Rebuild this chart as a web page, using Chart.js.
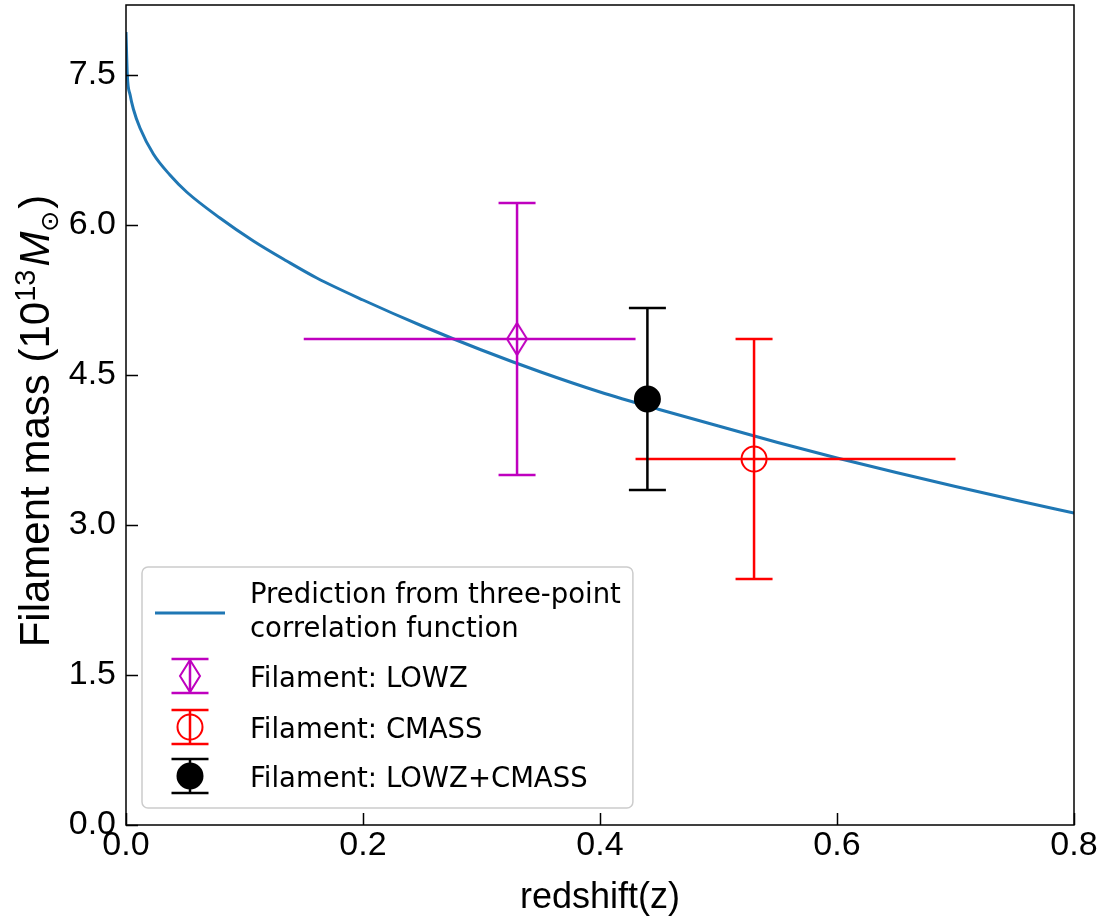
<!DOCTYPE html>
<html>
<head>
<meta charset="utf-8">
<script src="https://cdn.jsdelivr.net/npm/chart.js@4.4.0/dist/chart.umd.min.js"></script>
<style>
  html, body { margin: 0; padding: 0; background: #fff; }
  #wrap { width: 1102px; height: 924px; }
</style>
</head>
<body>
<div id="wrap"><canvas id="chart_1" width="1102" height="924"></canvas></div>
<script>
// prediction from three-point correlation function
const curveZ    = [0, 0.0011, 0.0035, 0.0062, 0.0118, 0.0231, 0.0371, 0.0512, 0.0793, 0.1075, 0.1356,
                   0.161, 0.2, 0.25, 0.3, 0.35, 0.4, 0.45, 0.5, 0.55, 0.6, 0.65, 0.7, 0.75, 0.8];
const curveMass = [7.93, 7.50, 7.30, 7.16, 6.97, 6.71, 6.50, 6.33, 6.07, 5.84, 5.64,
                   5.47, 5.25, 4.99, 4.75, 4.53, 4.33, 4.155, 3.99, 3.825, 3.67, 3.525, 3.385, 3.25, 3.12];
const curveLabel = ['Prediction from three-point', 'correlation function'];

// filament measurements
const pointLabels = ['Filament: LOWZ', 'Filament: CMASS', 'Filament: LOWZ+CMASS'];
const pointZ    = [0.33, 0.53, 0.44];
const zLow      = [0.15, 0.43, 0.44];
const zHigh     = [0.43, 0.70, 0.44];
const pointMass = [4.86, 3.66, 4.26];
const massErr   = [1.36, 1.20, 0.91];

const xTicks = [0, 0.2, 0.4, 0.6, 0.8];
const yTicks = [0, 1.5, 3.0, 4.5, 6.0, 7.5];

const xTitle = 'redshift(z)';

// styles
const curveColor = '#1f77b4';
const pointColors = ['#bf00bf', '#ff0000', '#000000'];
const tickFont = '"Liberation Sans", Arial, sans-serif';
const textFont = '"DejaVu Sans", sans-serif';

function thinDiamond(color){
    let c = document.createElement('canvas');
    c.width = 26; c.height = 38;
    let g = c.getContext('2d');
    g.strokeStyle = color;
    g.lineWidth = 2;
    g.beginPath();
    g.moveTo(13, 3); g.lineTo(23, 19); g.lineTo(13, 35); g.lineTo(3, 19);
    g.closePath();
    g.stroke();
    return c;
}

const pointStyles = [thinDiamond(pointColors[0]), 'circle', 'circle'];
const pointFill = ['rgba(0,0,0,0)', 'rgba(0,0,0,0)', pointColors[2]];

function marker(ctx, i, x, y){
    ctx.save();
    ctx.strokeStyle = pointColors[i];
    ctx.fillStyle = pointFill[i];
    ctx.lineWidth = 2;
    if (typeof pointStyles[i] !== 'string') {
        ctx.drawImage(pointStyles[i], x - pointStyles[i].width / 2, y - pointStyles[i].height / 2);
    } else {
        ctx.beginPath();
        ctx.arc(x, y, 12.5, 0, Math.PI * 2);
        ctx.fill();
        ctx.stroke();
    }
    ctx.restore();
}

function errBar(ctx, color, x, yTop, yBot, cap){
    ctx.strokeStyle = color;
    ctx.beginPath();
    ctx.moveTo(x, yTop); ctx.lineTo(x, yBot);
    ctx.moveTo(x - cap, yTop); ctx.lineTo(x + cap, yTop);
    ctx.moveTo(x - cap, yBot); ctx.lineTo(x + cap, yBot);
    ctx.stroke();
}

// error bars go between the curve and the markers
const errorBars = {
    id: 'errorBars',
    afterDatasetDraw(chart, args){
        if (args.index !== 0) return;
        const {ctx, scales: {x, y}} = chart;
        ctx.save();
        ctx.lineWidth = 2.5;
        pointZ.forEach((z, i) => {
            let px = x.getPixelForValue(z);
            let py = y.getPixelForValue(pointMass[i]);
            if (zHigh[i] > zLow[i]) {
                ctx.strokeStyle = pointColors[i];
                ctx.beginPath();
                ctx.moveTo(x.getPixelForValue(zLow[i]), py);
                ctx.lineTo(x.getPixelForValue(zHigh[i]), py);
                ctx.stroke();
            }
            errBar(ctx, pointColors[i], px,
                y.getPixelForValue(pointMass[i] + massErr[i]),
                y.getPixelForValue(pointMass[i] - massErr[i]), 18.5);
        });
        ctx.restore();
    }
};

// frame, inward ticks, axis titles and the legend box
const decorations = {
    id: 'decorations',
    afterDraw(chart){
        const {ctx, chartArea: a, scales: {x, y}} = chart;
        ctx.save();
        ctx.strokeStyle = '#000';
        ctx.lineWidth = 1.5;
        ctx.strokeRect(a.left, a.top, a.right - a.left, a.bottom - a.top);
        ctx.beginPath();
        x.ticks.forEach(t => {
            let px = Math.round(x.getPixelForValue(t.value)) + 0.5;
            ctx.moveTo(px, a.bottom); ctx.lineTo(px, a.bottom - 12);
        });
        y.ticks.forEach(t => {
            let py = Math.round(y.getPixelForValue(t.value)) + 0.5;
            ctx.moveTo(a.left, py); ctx.lineTo(a.left + 12, py);
        });
        ctx.stroke();

        // x title
        ctx.fillStyle = '#000';
        ctx.font = '36px ' + tickFont;
        ctx.textAlign = 'center';
        ctx.textBaseline = 'alphabetic';
        ctx.fillText(xTitle, (a.left + a.right) / 2, 908);

        // y title with super/subscripts
        const parts = [
            {t: 'Filament mass (10', f: '42px ' + tickFont, dy: 0, gap: 0},
            {t: '13', f: '29px ' + tickFont, dy: -14, gap: 0},
            {t: 'M', f: 'italic 42px ' + tickFont, dy: 0, gap: 3},
            {t: '\u2299', f: '25px ' + textFont, dy: 9, gap: 0},
            {t: ')', f: '42px ' + tickFont, dy: 0, gap: 2}
        ];
        let total = 0;
        parts.forEach(p => { ctx.font = p.f; p.w = ctx.measureText(p.t).width; total += p.w + p.gap; });
        ctx.translate(49, (a.top + a.bottom) / 2 + 6);
        ctx.rotate(-Math.PI / 2);
        ctx.textAlign = 'left';
        let cx = -total / 2;
        parts.forEach(p => {
            cx += p.gap;
            ctx.font = p.f;
            ctx.fillText(p.t, cx, p.dy);
            cx += p.w;
        });
        ctx.restore();

        drawLegend(chart);
    }
};

function drawLegend(chart){
    const {ctx, chartArea: a} = chart;
    ctx.save();
    ctx.font = '27.5px ' + textFont;
    let maxW = 0;
    curveLabel.concat(pointLabels).forEach(t => { maxW = Math.max(maxW, ctx.measureText(t).width); });
    const left = a.left + 16;
    const h = 241;
    const top = a.bottom - 17 - h;
    const w = 108 + maxW + 12;
    ctx.beginPath();
    ctx.roundRect(left, top, w, h, 6);
    ctx.fillStyle = 'rgba(255,255,255,0.8)';
    ctx.fill();
    ctx.strokeStyle = '#cccccc';
    ctx.lineWidth = 1.5;
    ctx.stroke();

    // curve entry
    ctx.strokeStyle = curveColor;
    ctx.lineWidth = 3;
    ctx.beginPath();
    ctx.moveTo(left + 13, top + 46); ctx.lineTo(left + 83, top + 46);
    ctx.stroke();
    ctx.fillStyle = '#000';
    ctx.textBaseline = 'alphabetic';
    curveLabel.forEach((t, k) => ctx.fillText(t, left + 108, top + 36 + k * 34));

    // error bar entries
    const rowY = [109, 160, 209];
    pointLabels.forEach((t, i) => {
        let cy = top + rowY[i];
        ctx.lineWidth = 2.5;
        errBar(ctx, pointColors[i], left + 48, cy - 17, cy + 17, 18.5);
        marker(ctx, i, left + 48, cy);
        ctx.fillStyle = '#000';
        ctx.font = '27.5px ' + textFont;
        ctx.fillText(t, left + 108, cy + 11);
    });
    ctx.restore();
}

const datasets = [{
    label: curveLabel.join(' '),
    data: curveZ.map((z, i) => ({x: z, y: curveMass[i]})),
    showLine: true,
    borderColor: curveColor,
    borderWidth: 3,
    pointRadius: 0,
    cubicInterpolationMode: 'monotone',
    order: 10
}];
pointLabels.forEach((lab, i) => {
    datasets.push({
        label: lab,
        data: [{x: pointZ[i], y: pointMass[i]}],
        pointStyle: pointStyles[i],
        pointRadius: 12.5,
        pointHoverRadius: 12.5,
        pointBorderWidth: 2,
        pointBorderColor: pointColors[i],
        pointBackgroundColor: pointFill[i],
        order: 0
    });
});

let chart = new Chart('chart_1', {
    type: 'scatter',
    data: { datasets: datasets },
    options: {
        responsive: false,
        animation: false,
        layout: { autoPadding: false, padding: { left: 0, right: 28, top: 5, bottom: 0 } },
        plugins: {
            legend: { display: false },
            tooltip: { enabled: false }
        },
        scales: {
            x: {
                type: 'linear',
                min: 0, max: 0.8,
                afterBuildTicks: s => { s.ticks = xTicks.map(v => ({value: v})); },
                afterFit: s => { s.height = 99; },
                grid: { display: false, drawTicks: false },
                border: { display: false },
                ticks: {
                    padding: 0,
                    color: '#000',
                    maxRotation: 0,
                    font: { family: tickFont, size: 34 },
                    callback: v => Number(v).toFixed(1)
                }
            },
            y: {
                type: 'linear',
                min: 0, max: 8.2,
                afterBuildTicks: s => { s.ticks = yTicks.map(v => ({value: v})); },
                afterFit: s => { s.width = 126; s.paddingTop = 0; s.paddingBottom = 0; },
                grid: { display: false, drawTicks: false },
                border: { display: false },
                ticks: {
                    padding: 10,
                    color: '#000',
                    font: { family: tickFont, size: 34 },
                    callback: v => Number(v).toFixed(1)
                }
            }
        }
    },
    plugins: [errorBars, decorations]
});
</script>
</body>
</html>
